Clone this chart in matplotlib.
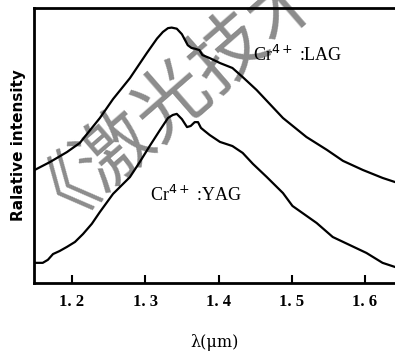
import matplotlib.pyplot as plt

# wavelength (um) and relative intensity
lag_x = [1.149, 1.170, 1.193, 1.2105, 1.238, 1.256, 1.279, 1.302, 1.316, 1.324,
         1.331, 1.336, 1.343, 1.350, 1.358, 1.363, 1.368, 1.374, 1.378, 1.388,
         1.402, 1.419, 1.433, 1.452, 1.470, 1.488, 1.520, 1.548, 1.570, 1.597,
         1.624, 1.641]
lag_y = [0.411, 0.440, 0.476, 0.509, 0.600, 0.669, 0.745, 0.836, 0.889, 0.913,
         0.927, 0.929, 0.925, 0.905, 0.865, 0.855, 0.852, 0.847, 0.829, 0.818,
         0.800, 0.782, 0.749, 0.702, 0.651, 0.600, 0.531, 0.484, 0.444, 0.411,
         0.382, 0.367]

yag_x = [1.149, 1.160, 1.167, 1.174, 1.183, 1.193, 1.204, 1.215, 1.227, 1.238,
         1.256, 1.279, 1.2925, 1.306, 1.320, 1.331, 1.3375, 1.343, 1.350, 1.357,
         1.362, 1.3675, 1.372, 1.376, 1.381, 1.388, 1.402, 1.419, 1.433, 1.447,
         1.466, 1.488, 1.501, 1.534, 1.556, 1.579, 1.602, 1.624, 1.641]
yag_y = [0.073, 0.073, 0.084, 0.105, 0.116, 0.131, 0.149, 0.178, 0.215, 0.258,
         0.324, 0.385, 0.440, 0.498, 0.556, 0.600, 0.611, 0.615, 0.596, 0.567,
         0.571, 0.585, 0.585, 0.564, 0.553, 0.538, 0.513, 0.498, 0.473, 0.433,
         0.385, 0.327, 0.280, 0.218, 0.167, 0.138, 0.109, 0.073, 0.058]

ticks = [1.2, 1.3, 1.4, 1.5, 1.6]
tick_labels = ['1. 2', '1. 3', '1. 4', '1. 5', '1. 6']

fig = plt.figure(figsize=(3.95, 3.51), dpi=100)
ax = fig.add_axes([0.086, 0.194, 0.914, 0.783])

# watermark
ax.text(0.055, 0.43, '《激光技术', transform=fig.transFigure, fontsize=54,
        family=['Noto Sans CJK SC', 'DejaVu Sans'], color='#8c8c8c',
        rotation=41, rotation_mode='anchor', ha='left', va='center',
        zorder=1, clip_on=False)

ax.plot(lag_x, lag_y, color='black', lw=1.6, zorder=3)
ax.plot(yag_x, yag_y, color='black', lw=1.6, zorder=3)

ax.text(1.508, 0.83, 'Cr$^{4+}$ :LAG', family='Liberation Serif', fontsize=13,
        ha='center', va='center', zorder=4)
ax.text(1.369, 0.32, 'Cr$^{4+}$ :YAG', family='Liberation Serif', fontsize=13,
        ha='center', va='center', zorder=4)

ax.set_xlim(1.148, 1.641)
ax.set_ylim(0, 1)
ax.set_xticks(ticks)
ax.set_xticklabels(tick_labels, family='Liberation Serif', fontweight='bold', fontsize=12)
ax.set_yticks([])
ax.tick_params(axis='x', direction='in', length=6, width=1.5, pad=8)

for s in ['left', 'bottom', 'top']:
    ax.spines[s].set_linewidth(2)
ax.spines['right'].set_visible(False)

ax.set_xlabel('λ(μm)', family='DejaVu Serif', fontsize=11.5, labelpad=17)
ax.set_ylabel('Ralative intensity', family='DejaVu Sans', fontweight='bold',
              fontsize=11, labelpad=6)

fig.savefig('out.png', dpi=100)
